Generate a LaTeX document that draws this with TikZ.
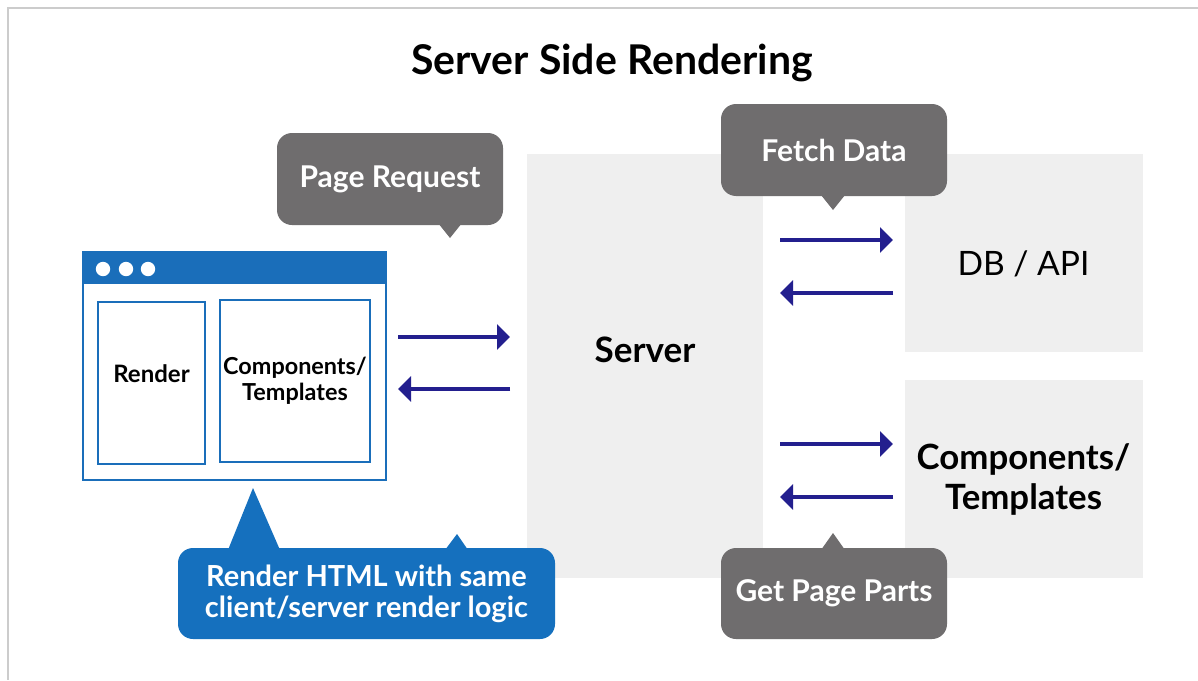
\documentclass[tikz,border=0pt]{standalone}
\usepackage{fontspec}
\setmainfont{Lato}
\usetikzlibrary{arrows.meta}
\definecolor{framegray}{HTML}{CCCCCC}
\definecolor{panelgray}{HTML}{EFEFEF}
\definecolor{tipgray}{HTML}{6F6D6E}
\definecolor{tipblue}{HTML}{1570BE}
\definecolor{winblue}{HTML}{1A6EBA}
\definecolor{arrownavy}{HTML}{231F8E}
\tikzset{% 
    panel/.style={fill=panelgray,inner sep=0pt,outer sep=0pt,align=center},
    pane/.style={draw=winblue,line width=1.1pt,fill=white,inner sep=0pt,align=center,font=\bfseries\fontsize{11.7}{13}\selectfont},
    bubble/.style={fill=tipgray,rounded corners=7.5pt,inner sep=0pt,text=white,align=center,font=\bfseries\fontsize{15}{15.5}\selectfont,minimum width=113pt,minimum height=46pt},
    flow/.style={draw=arrownavy,line width=1.6pt,-{Triangle[length=6.5pt,width=12.5pt]}}
}
\begin{document}
\begin{tikzpicture}[x=0.5pt,y=-0.5pt]
        \useasboundingbox (0,0) rectangle (1198,680);
        \fill[white] (0,0) rectangle (1198,680);
        \draw[framegray,line width=1.3pt] (1198,8) -- (8,8) -- (8,680);

        \node[font=\bfseries\fontsize{20.5}{24}\selectfont] (title) at (612,63) {Server Side Rendering};

        \node[panel,minimum width=118pt,minimum height=212pt,label={[yshift=8pt,font=\bfseries\fontsize{17.5}{20}\selectfont]center:Server}] (server) at (645,366) {};
        \node[panel,minimum width=119pt,minimum height=99pt,label={[yshift=-5.5pt,font=\fontsize{16.8}{20}\selectfont]center:DB / API}] (db) at (1023.5,253) {};
        \node[panel,minimum width=119pt,minimum height=99pt,font=\bfseries\fontsize{17.4}{20}\selectfont] (parts) at (1023.5,479) {Components/\\Templates};

        \node[draw=winblue,line width=1.3pt,minimum width=151.5pt,minimum height=114pt,inner sep=0pt] (win) at (234.5,366) {};
        \fill[winblue] (win.north west) rectangle ([yshift=-16.5pt]win.north east);
        \foreach \x in {103,126,148} \fill[white] (\x,269) circle (3.6pt);
        \node[pane,minimum width=53.5pt,minimum height=81pt,label={[yshift=4.5pt,font=\bfseries\fontsize{12}{13}\selectfont]center:Render}] (render) at (151.5,383) {};
        \node[pane,minimum width=75pt,minimum height=81pt] (comp) at (295,381) {Components/\\Templates};

        \coordinate (reqA) at (398,337);
        \coordinate (reqB) at (510,337);
        \coordinate (resA) at (510,389);
        \coordinate (resB) at (398,389);
        \coordinate (dbA) at (780,240);
        \coordinate (dbB) at (893,240);
        \coordinate (dbC) at (893,293);
        \coordinate (dbD) at (780,293);
        \coordinate (ptA) at (780,444);
        \coordinate (ptB) at (893,444);
        \coordinate (ptC) at (893,497);
        \coordinate (ptD) at (780,497);
        \draw[flow] (reqA) -- (reqB);
        \draw[flow] (resA) -- (resB);
        \draw[flow] (dbA) -- (dbB);
        \draw[flow] (dbC) -- (dbD);
        \draw[flow] (ptA) -- (ptB);
        \draw[flow] (ptC) -- (ptD);

        \node[bubble] (req) at (390,179) {Page Request};
        \fill[tipgray] (438,223) -- (450,238) -- (462,223) -- cycle;
        \node[bubble] (fetch) at (834,150) {Fetch Data};
        \fill[tipgray] (821,195) -- (833,210) -- (845,195) -- cycle;
        \node[bubble,minimum height=45.5pt] (get) at (834,593.5) {Get Page Parts};
        \fill[tipgray] (821,550) -- (833,533) -- (845,550) -- cycle;
        \node[bubble,fill=tipblue,minimum width=188.5pt,minimum height=45.5pt,font=\bfseries\fontsize{14.5}{15.5}\selectfont] (html) at (366.5,593.5) {Render HTML with same\\client/server render logic};
        \fill[tipblue] (228,550) -- (253,488) -- (280,550) -- cycle;
        \fill[tipblue] (445,550) -- (457,534) -- (468,550) -- cycle;
    \end{tikzpicture}
\end{document}
